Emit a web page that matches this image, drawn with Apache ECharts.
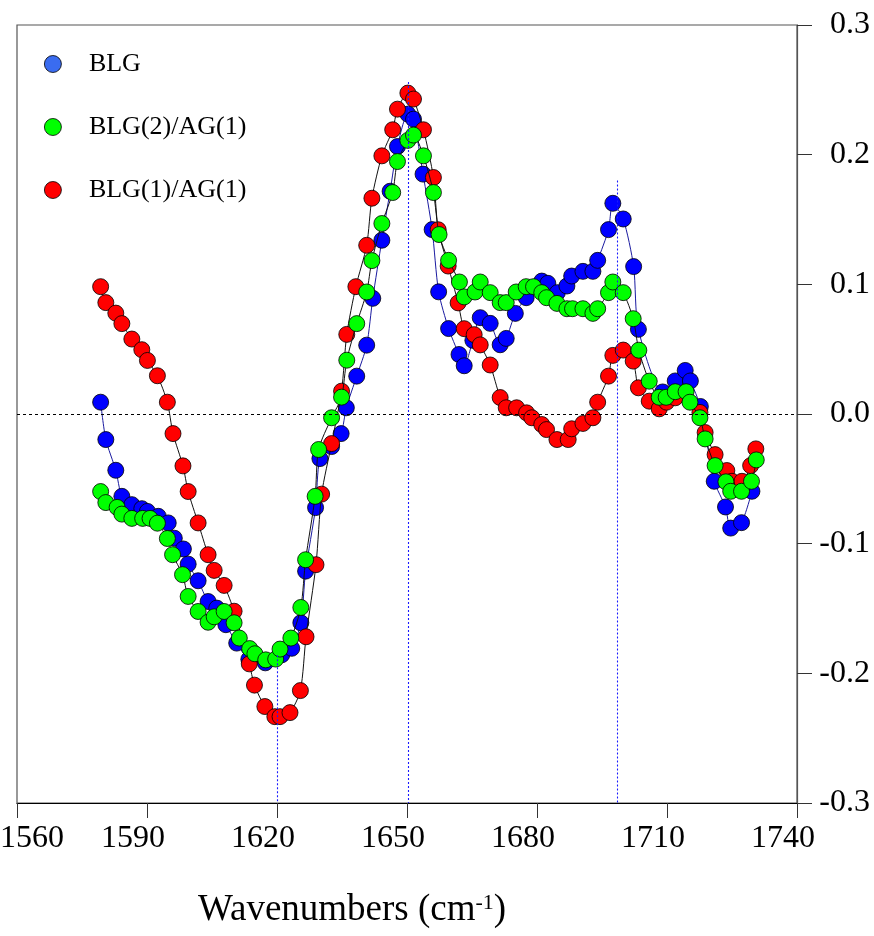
<!DOCTYPE html>
<html><head><meta charset="utf-8">
<script src="https://cdn.jsdelivr.net/npm/echarts@6/dist/echarts.min.js"></script>
<style>html,body{margin:0;padding:0;background:#fff}#c{width:874px;height:936px}</style>
</head><body><div id="c"></div>
<script>
// ---- axis ticks ----
const xTicks = [1560, 1590, 1620, 1650, 1680, 1710, 1740];
const yTicks = [-0.3, -0.2, -0.1, 0.0, 0.1, 0.2, 0.3];
const seriesNames = ['BLG', 'BLG(2)/AG(1)', 'BLG(1)/AG(1)'];
const xTitle = 'Wavenumbers (cm';
const xTitleSup = '-1';

// ---- BLG (blue) ----
const blgX = [1579.3,1580.5,1582.8,1584.2,1586.5,1588.8,1590.1,1592.6,1594.9,1596.3,1598.4,1599.5,1601.8,1604.1,1606.1,1608.2,1610.7,1613.5,1617.3,1621.1,1623.4,1625.5,1626.6,1628.9,1629.9,1632.6,1634.8,1636.0,1638.4,1640.7,1642.1,1644.2,1646.1,1647.8,1650.2,1651.5,1653.7,1655.8,1657.3,1659.6,1662.0,1663.2,1665.2,1666.9,1669.2,1671.5,1672.9,1675.0,1677.5,1681.1,1682.5,1684.7,1686.9,1688.0,1690.6,1692.9,1694.0,1696.5,1697.5,1699.9,1702.3,1703.4,1709.0,1711.9,1714.2,1715.4,1717.7,1720.9,1723.5,1724.7,1727.2,1729.6];
const blgY = [0.0091,-0.0197,-0.0434,-0.0635,-0.0699,-0.0730,-0.0751,-0.0789,-0.0840,-0.0958,-0.1041,-0.1158,-0.1286,-0.1446,-0.1497,-0.1625,-0.1767,-0.1892,-0.1919,-0.1857,-0.1807,-0.1610,-0.1212,-0.0722,-0.0344,-0.0251,-0.0151,0.0048,0.0292,0.0531,0.0892,0.1340,0.1718,0.2063,0.2313,0.2274,0.1850,0.1422,0.0942,0.0659,0.0459,0.0372,0.0568,0.0743,0.0699,0.0534,0.0583,0.0776,0.0897,0.1025,0.1008,0.0936,0.0987,0.1064,0.1100,0.1100,0.1185,0.1422,0.1625,0.1504,0.1137,0.0653,0.0170,0.0255,0.0336,0.0255,0.0058,-0.0519,-0.0717,-0.0880,-0.0838,-0.0596];

// ---- BLG(2)/AG(1) (green) ----
const blg2X = [1579.3,1580.5,1583.1,1584.2,1586.5,1589.0,1590.7,1592.4,1594.7,1595.9,1598.2,1599.5,1601.8,1604.1,1605.5,1607.8,1610.1,1611.3,1613.7,1614.9,1617.4,1619.7,1620.7,1623.2,1625.5,1626.6,1628.8,1629.6,1632.6,1634.9,1636.1,1638.4,1640.7,1641.9,1644.2,1646.7,1647.8,1650.2,1651.5,1653.8,1656.1,1657.4,1659.6,1662.1,1663.2,1665.7,1666.9,1669.2,1671.5,1672.9,1675.2,1677.5,1679.2,1681.1,1682.2,1684.6,1686.9,1688.2,1690.6,1692.9,1694.0,1696.5,1697.5,1699.9,1702.2,1703.5,1705.9,1708.2,1709.8,1711.9,1714.4,1715.3,1717.6,1718.8,1721.1,1723.6,1724.7,1727.2,1729.5,1730.6];
const blg2Y = [-0.0598,-0.0683,-0.0720,-0.0772,-0.0805,-0.0805,-0.0805,-0.0842,-0.0960,-0.1085,-0.1239,-0.1407,-0.1523,-0.1606,-0.1564,-0.1523,-0.1610,-0.1728,-0.1809,-0.1849,-0.1896,-0.1890,-0.1813,-0.1728,-0.1492,-0.1124,-0.0635,-0.0274,-0.0029,0.0130,0.0415,0.0697,0.0941,0.1183,0.1469,0.1708,0.1947,0.2110,0.2151,0.1991,0.1708,0.1384,0.1185,0.1018,0.0903,0.0941,0.1018,0.0936,0.0859,0.0859,0.0941,0.0982,0.0982,0.0936,0.0897,0.0853,0.0812,0.0812,0.0812,0.0776,0.0812,0.0936,0.1018,0.0936,0.0735,0.0492,0.0253,0.0129,0.0129,0.0172,0.0172,0.0091,-0.0029,-0.0192,-0.0398,-0.0523,-0.0596,-0.0596,-0.0519,-0.0354];

// ---- BLG(1)/AG(1) (red) ----
const blg1X = [1579.3,1580.5,1582.8,1584.2,1586.5,1588.8,1590.1,1592.4,1594.7,1596.0,1598.3,1599.5,1601.8,1604.1,1605.5,1607.8,1610.1,1613.6,1614.8,1617.2,1619.5,1620.7,1623.0,1625.4,1626.7,1629.0,1630.3,1632.6,1634.9,1636.1,1638.2,1640.7,1641.9,1644.2,1646.7,1647.8,1650.2,1651.5,1653.8,1656.1,1657.2,1659.5,1661.8,1663.2,1665.5,1666.9,1669.2,1671.5,1672.9,1675.3,1677.6,1678.8,1681.1,1682.2,1684.6,1687.2,1688.0,1690.6,1692.9,1694.0,1696.5,1697.5,1699.9,1702.2,1703.4,1705.9,1708.2,1709.9,1711.9,1717.6,1718.8,1721.1,1723.8,1725.0,1727.3,1729.3,1730.5];
const blg1Y = [0.0982,0.0859,0.0778,0.0697,0.0578,0.0496,0.0413,0.0295,0.0091,-0.0151,-0.0400,-0.0598,-0.0840,-0.1085,-0.1206,-0.1322,-0.1521,-0.1927,-0.2091,-0.2256,-0.2334,-0.2334,-0.2303,-0.2133,-0.1718,-0.1162,-0.0618,-0.0228,0.0176,0.0614,0.0982,0.1301,0.1664,0.1991,0.2192,0.2351,0.2475,0.2429,0.2192,0.1824,0.1421,0.1141,0.0857,0.0658,0.0612,0.0533,0.0378,0.0127,0.0048,0.0048,0.0009,-0.0029,-0.0081,-0.0120,-0.0197,-0.0197,-0.0114,-0.0073,-0.0029,0.0091,0.0292,0.0452,0.0493,0.0408,0.0202,0.0099,0.0040,0.0091,0.0125,0.0012,-0.0143,-0.0313,-0.0436,-0.0519,-0.0519,-0.0398,-0.0269];

// ---- reference (dotted) vertical lines ----
const refLineX = [1620.1, 1650.2, 1698.6];
const refLineTop = [-0.186, 0.256, 0.18];

const FONT = "'Liberation Serif','Times New Roman',serif";
const pair = (xs, ys) => xs.map((x, i) => [x, ys[i]]);

function mkSeries(name, xs, ys, fill, lineColor, z) {
  return {
    name, type: 'line', data: pair(xs, ys), z,
    smooth: 0.25, symbol: 'circle', symbolSize: 16,
    lineStyle: { color: lineColor, width: 1 },
    itemStyle: { color: fill, borderColor: '#000', borderWidth: 0.8 },
    emphasis: { disabled: true }
  };
}

const blue = mkSeries(seriesNames[0], blgX, blgY, '#0000ff', '#1a1aa0', 2);
blue.markLine = {
  silent: true, symbol: 'none', animation: false,
  label: { show: false },
  data: [
    { yAxis: 0, lineStyle: { color: '#000', type: [3, 3], width: 1 } },
    ...refLineX.map((x, i) => [
      { coord: [x, refLineTop[i]], lineStyle: { color: '#1a1aff', type: [2, 2], width: 1.1 } },
      { coord: [x, yTicks[0]], lineStyle: { color: '#1a1aff', type: [2, 2], width: 1.1 } }
    ])
  ]
};
const red = mkSeries(seriesNames[2], blg1X, blg1Y, '#ff0000', '#111', 3);
const green = mkSeries(seriesNames[1], blg2X, blg2Y, '#00ff00', '#111', 4);

const chart = echarts.init(document.getElementById('c'), null, { renderer: 'canvas' });
chart.setOption({
  animation: false,
  backgroundColor: '#fff',
  grid: { left: 17, right: 77, top: 25, bottom: 133, containLabel: false, outerBoundsMode: 'none',
          show: true, borderColor: '#555', borderWidth: 1.2 },
  title: {
    text: '{a|' + xTitle + '}{s|' + xTitleSup + '}{a|)}',
    left: 193, top: 887,
    textStyle: {
      fontWeight: 'normal',
      rich: {
        a: { fontFamily: FONT, fontSize: 37, fontWeight: 'normal', color: '#000', verticalAlign: 'bottom' },
        s: { fontFamily: FONT, fontSize: 22, fontWeight: 'normal', color: '#000', verticalAlign: 'bottom', padding: [0, 0, 15, 0] }
      }
    }
  },
  legend: {
    orient: 'vertical', left: 39, top: 46,
    itemWidth: 18, itemHeight: 17, itemGap: 37, icon: 'circle',
    itemStyle: { borderColor: '#000', borderWidth: 0.8 },
    textStyle: { fontFamily: FONT, fontSize: 26, color: '#000', padding: [0, 0, 0, 22] },
    data: [
      { name: seriesNames[0], itemStyle: { color: '#3a6cf0' } },
      seriesNames[1], seriesNames[2]
    ]
  },
  xAxis: {
    type: 'value', min: xTicks[0], max: xTicks[xTicks.length - 1], interval: 30,
    splitLine: { show: false },
    axisLine: { onZero: false, lineStyle: { color: '#000', width: 1.2 } },
    axisTick: { length: 15, lineStyle: { color: '#333' } },
    axisLabel: {
      margin: 20,
      formatter: v => (v === xTicks[0] ? '{f|' + v + '}' : '{o|' + v + '}'),
      rich: {
        f: { fontFamily: FONT, fontSize: 32, color: '#000', padding: [0, 0, 0, 30] },
        o: { fontFamily: FONT, fontSize: 32, color: '#000', padding: [0, 28, 0, 0] }
      }
    }
  },
  yAxis: {
    type: 'value', position: 'right', min: yTicks[0], max: yTicks[yTicks.length - 1], interval: 0.1,
    splitLine: { show: false },
    axisLine: { show: true, onZero: false, lineStyle: { color: '#555', width: 1.2 } },
    axisTick: { show: true, length: 15, lineStyle: { color: '#333' } },
    axisLabel: {
      margin: 73, align: 'right', fontFamily: FONT, fontSize: 32, color: '#000',
      formatter: v => (Math.abs(v) < 1e-9 ? '0.0' : v.toFixed(1))
    }
  },
  series: [blue, red, green]
});
</script></body></html>
